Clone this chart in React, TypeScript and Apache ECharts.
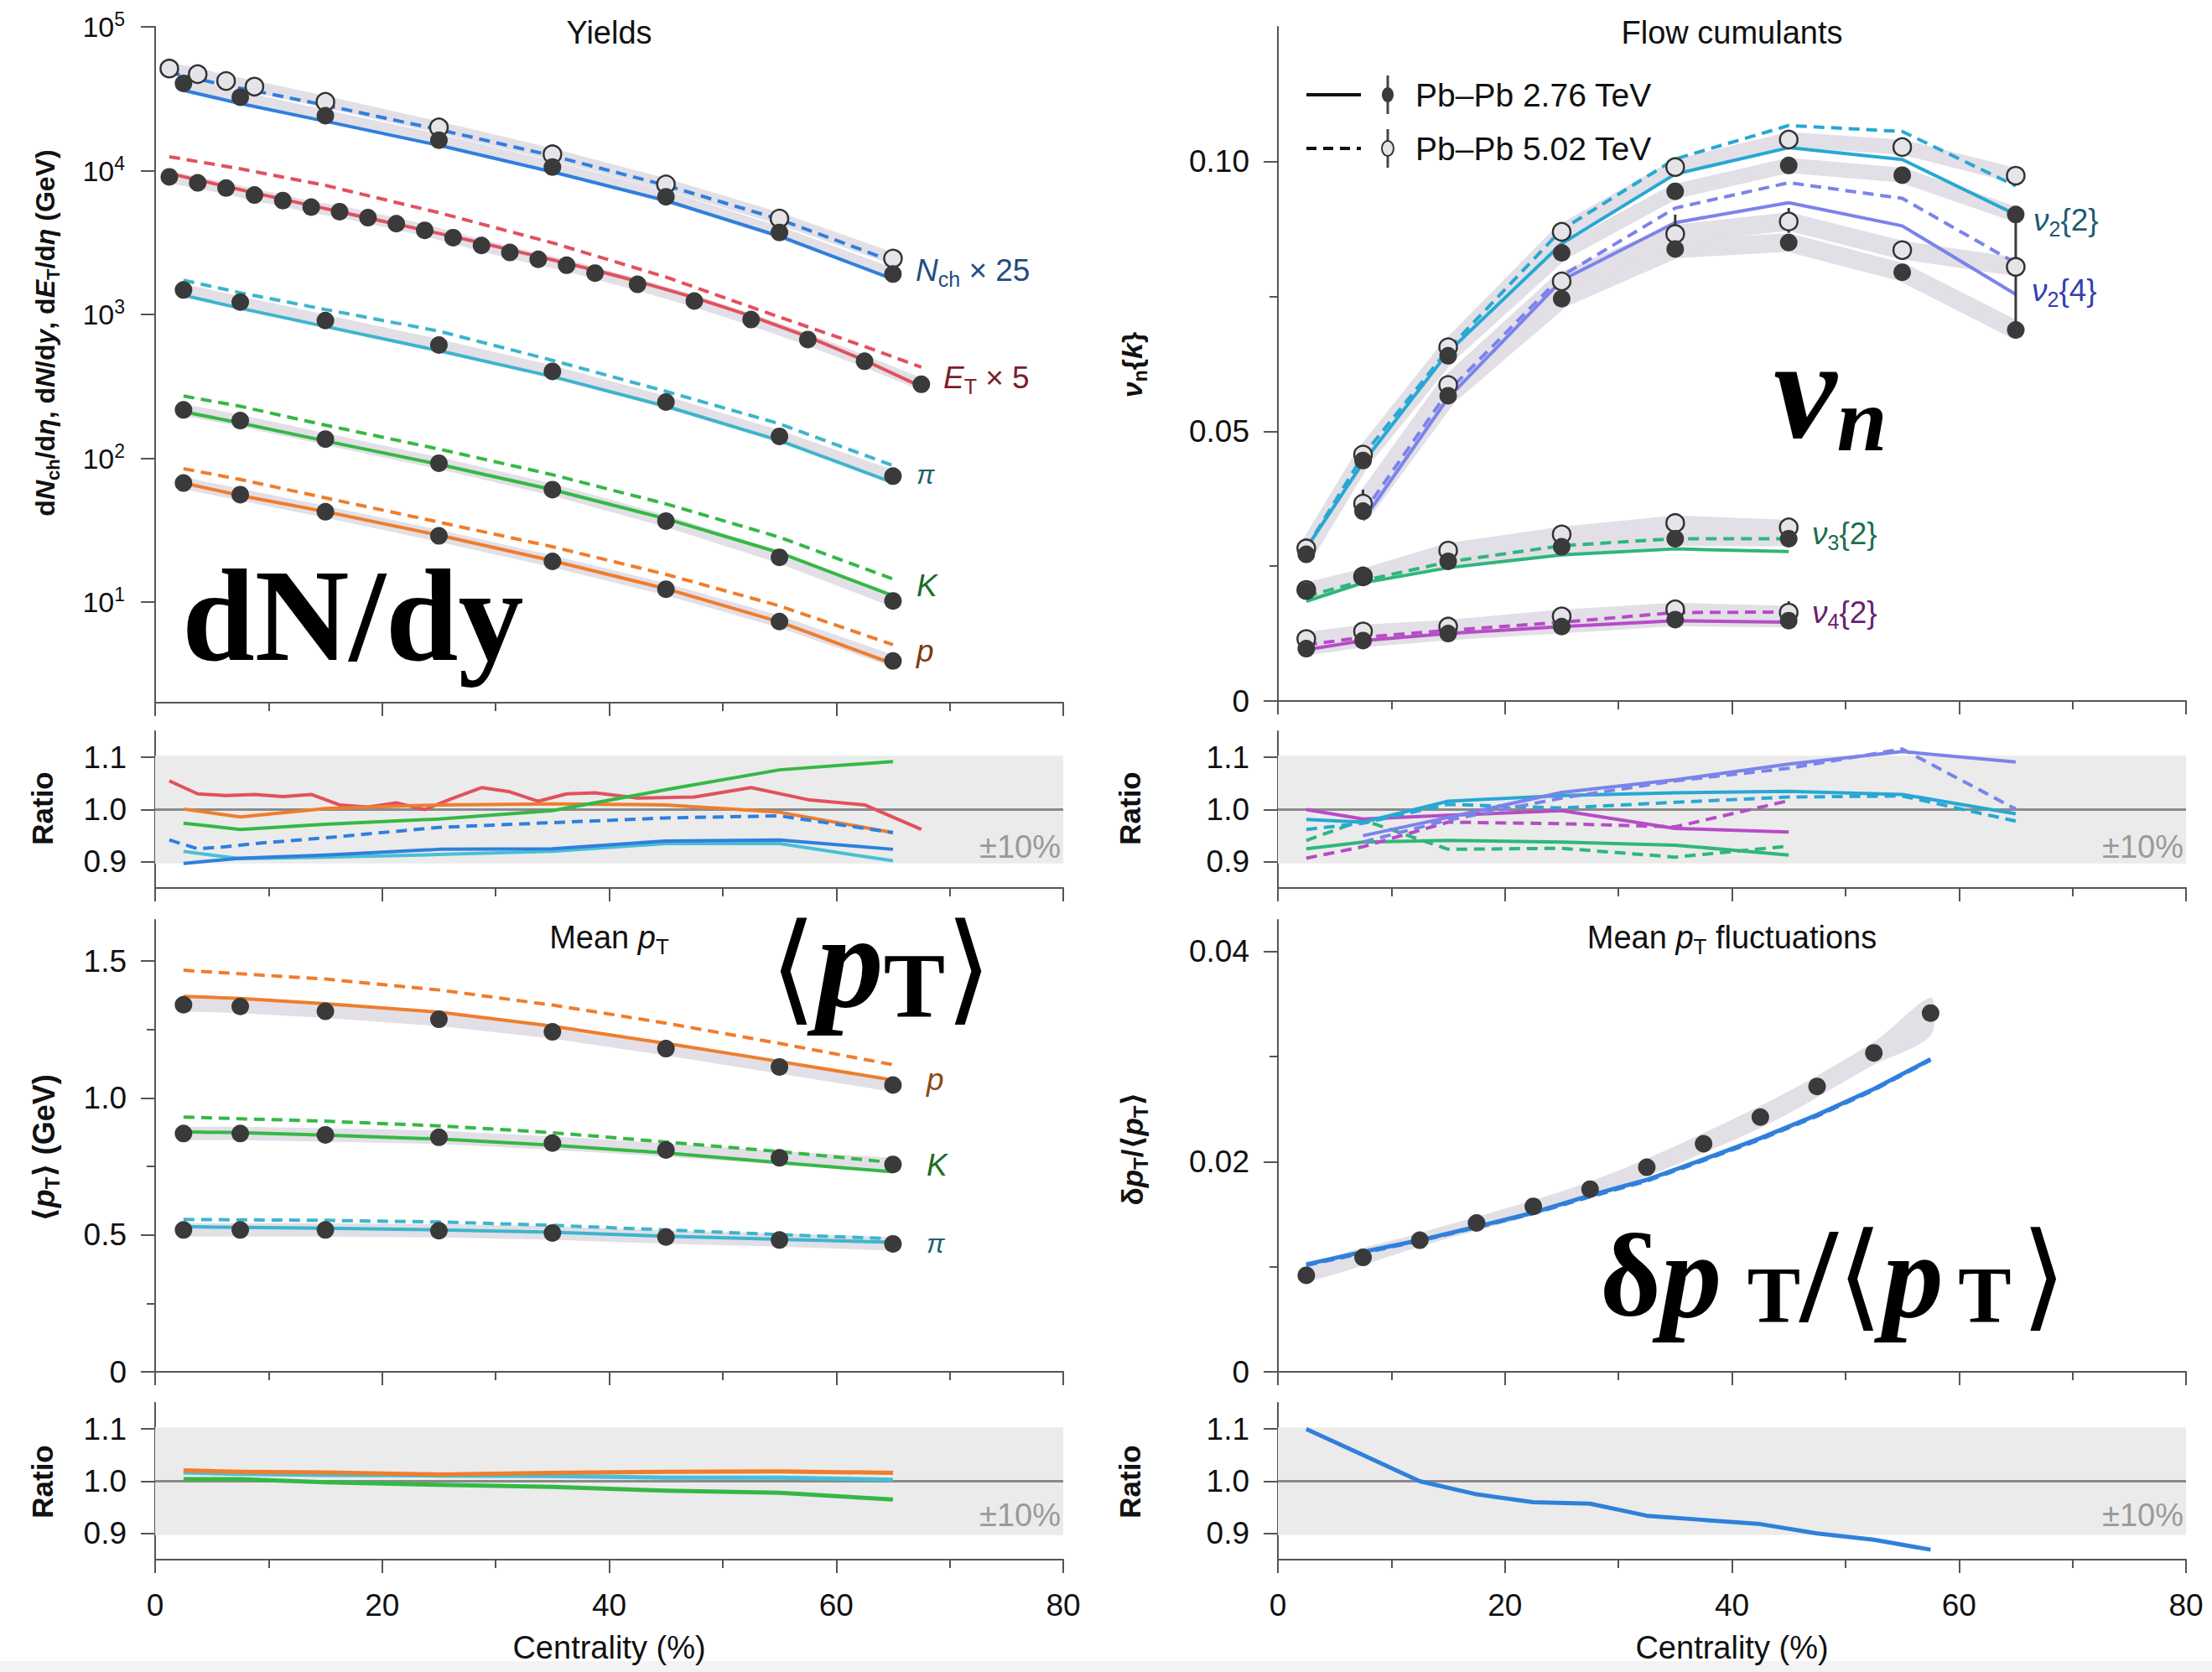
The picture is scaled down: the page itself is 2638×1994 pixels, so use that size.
import React, { useEffect, useRef } from 'react';
import * as echarts from 'echarts';

// ======================= DATA =======================
// centrality bin centres (%)
const X8 = [2.5, 7.5, 15, 25, 35, 45, 55, 65];
const X_NCH_502 = [1.25, 3.75, 6.25, 8.75, 15, 25, 35, 45, 55, 65];
const X_ET = [1.25, 3.75, 6.25, 8.75, 11.25, 13.75, 16.25, 18.75, 21.25, 23.75, 26.25, 28.75, 31.25, 33.75, 36.25, 38.75, 42.5, 47.5, 52.5, 57.5, 62.5, 67.5];
const X_ET_502 = [1.25, 7.5, 15, 25, 35, 45, 55, 62.5, 67.5];
const X_FLOW6 = [2.5, 7.5, 15, 25, 35, 45];
const X_V24 = [7.5, 15, 25, 35, 45, 55, 65];
const X_FLUCT = [2.5, 7.5, 12.5, 17.5, 22.5, 27.5, 32.5, 37.5, 42.5, 47.5, 52.5, 57.5];
const X_FLUCT_BAND = [2.5, 12.5, 27.5, 42.5, 52.5, 57.5];

// Yields (log axis)
const YIELD_TICKS = [10, 100, 1000, 10000, 100000];
const nchData276 = [40400, 32400, 24100, 16300, 10600, 6580, 3720, 1910];
const nchData502 = [51300, 46900, 42000, 38400, 30100, 20000, 13000, 8030, 4650, 2450];
const nchModel276 = [36200, 29300, 22050, 15000, 9800, 6190, 3500, 1760];
const nchModel502 = [48300, 43400, 39100, 35900, 28500, 19300, 12700, 7900, 4590, 2340];
const etData = [9060, 8230, 7570, 6770, 6200, 5580, 5190, 4710, 4280, 3850, 3420, 3020, 2700, 2420, 2200, 1940, 1620, 1240, 922, 670, 473, 327];
const etModel276 = [9560, 8620, 7780, 7000, 6330, 5720, 5180, 4690, 4250, 3850, 3480, 3140, 2820, 2530, 2270, 2030, 1700, 1310, 975, 700, 480, 315];
const etModel502 = [12500, 10300, 7900, 5100, 3150, 1820, 960, 600, 430];
const piData = [1480, 1220, 908, 613, 402, 246, 142, 75.2];
const piModel276 = [1360, 1105, 825, 560, 370, 230, 133, 67.8];
const piModel502 = [1730, 1416, 1083, 766, 480, 292, 174, 89];
const kData = [217, 183, 136, 92.5, 60.6, 36.6, 20.5, 10.2];
const kModel276 = [211, 176, 132, 90.8, 60.5, 38.0, 22.1, 11.1];
const kModel502 = [271, 230, 170, 116, 76.9, 48.2, 28.3, 14.5];
const pData = [67.3, 55.9, 42.5, 28.9, 19.2, 12.3, 7.33, 3.9];
const pModel276 = [67.4, 55.1, 42.6, 29.2, 19.4, 12.4, 7.29, 3.73];
const pModel502 = [84.7, 71.3, 53.1, 36.0, 24.3, 15.6, 9.42, 5.06];

// Ratios to yields
const rNch276 = [0.897, 0.907, 0.913, 0.924, 0.925, 0.94, 0.942, 0.924];
const rNch502 = [0.942, 0.925, 0.929, 0.935, 0.946, 0.966, 0.975, 0.984, 0.988, 0.956];
const rPi = [0.92, 0.906, 0.909, 0.914, 0.92, 0.935, 0.935, 0.902];
const rK = [0.974, 0.962, 0.972, 0.982, 0.998, 1.038, 1.076, 1.092];
const rP = [1.001, 0.986, 1.002, 1.009, 1.011, 1.009, 0.995, 0.956];
const rEt = [1.055, 1.03, 1.027, 1.029, 1.025, 1.029, 1.009, 1.005, 1.013, 1.0, 1.022, 1.042, 1.034, 1.016, 1.03, 1.032, 1.022, 1.024, 1.042, 1.019, 1.009, 0.962];

// Flow cumulants
const v22Data276 = [0.0272, 0.0446, 0.064, 0.0831, 0.0945, 0.0993, 0.0975, 0.0902];
const v22Data502 = [0.0283, 0.0457, 0.0656, 0.087, 0.099, 0.1041, 0.1027, 0.0974];
const v24Data276 = [0.0352, 0.0566, 0.0746, 0.0838, 0.085, 0.0795, 0.0688];
const v24Data502 = [0.0366, 0.0586, 0.0778, 0.0866, 0.0889, 0.0836, 0.0805];
const v32Data276 = [0.0204, 0.0231, 0.0259, 0.0286, 0.0301, 0.0301];
const v32Data502 = [0.0206, 0.0231, 0.0279, 0.0309, 0.033, 0.0322];
const v42Data276 = [0.0097, 0.0112, 0.0125, 0.0138, 0.0151, 0.0149];
const v42Data502 = [0.0115, 0.0129, 0.0138, 0.0157, 0.017, 0.0164];
const v22Model276 = [0.0283, 0.0442, 0.0647, 0.0848, 0.0977, 0.1026, 0.1004, 0.0902];
const v22Model502 = [0.0283, 0.0455, 0.0652, 0.0874, 0.1005, 0.1067, 0.1056, 0.0955];
const v24Model276 = [0.0335, 0.0562, 0.078, 0.0887, 0.0924, 0.0881, 0.0754];
const v24Model502 = [0.0348, 0.0574, 0.0788, 0.0914, 0.0961, 0.0932, 0.0812];
const v32Model276 = [0.0185, 0.0219, 0.0247, 0.0271, 0.0282, 0.0277];
const v32Model502 = [0.0194, 0.0223, 0.0258, 0.0288, 0.0301, 0.0301];
const v42Model276 = [0.0095, 0.0112, 0.0125, 0.0138, 0.0149, 0.0146];
const v42Model502 = [0.0104, 0.0118, 0.0131, 0.0146, 0.0164, 0.0165];
// error bars: [centrality, low, high]
const flowErrBars = [[7.5, 0.0339, 0.0392], [35, 0.0836, 0.0902], [45, 0.0868, 0.0914], [55, 0.0823, 0.0853], [65, 0.0672, 0.0905], [65, 0.0962, 0.099], [45, 0.0148, 0.0185]];

// Ratios to flow
const rV22_276 = [0.981, 0.976, 1.016, 1.027, 1.032, 1.035, 1.029, 0.992];
const rV22_502 = [0.962, 0.974, 1.01, 1.003, 1.014, 1.024, 1.026, 0.978];
const rV24_276 = [0.95, 0.985, 1.033, 1.057, 1.087, 1.111, 1.091];
const rV24_502 = [0.938, 0.98, 1.022, 1.055, 1.079, 1.116, 1.001];
const rV32_276 = [0.925, 0.938, 0.941, 0.938, 0.932, 0.913];
const rV32_502 = [0.941, 0.98, 0.924, 0.926, 0.909, 0.93];
const rV42_276 = [1.0, 0.982, 0.989, 0.998, 0.964, 0.957];
const rV42_502 = [0.907, 0.929, 0.976, 0.973, 0.967, 1.017];

// Mean pT (GeV)
const mptPData = [1.34, 1.334, 1.316, 1.287, 1.241, 1.18, 1.113, 1.047];
const mptPModel276 = [1.371, 1.363, 1.344, 1.313, 1.262, 1.199, 1.133, 1.065];
const mptPModel502 = [1.466, 1.453, 1.434, 1.394, 1.339, 1.273, 1.199, 1.121];
const mptKData = [0.87, 0.87, 0.865, 0.856, 0.835, 0.81, 0.781, 0.757];
const mptKModel276 = [0.876, 0.873, 0.864, 0.85, 0.827, 0.799, 0.764, 0.73];
const mptKModel502 = [0.93, 0.924, 0.915, 0.898, 0.873, 0.839, 0.804, 0.764];
const mptPiData = [0.518, 0.518, 0.518, 0.515, 0.507, 0.492, 0.481, 0.467];
const mptPiModel276 = [0.53, 0.527, 0.524, 0.518, 0.51, 0.495, 0.484, 0.473];
const mptPiModel502 = [0.556, 0.555, 0.553, 0.547, 0.535, 0.518, 0.501, 0.486];
const rMptP = [1.021, 1.018, 1.017, 1.013, 1.016, 1.018, 1.019, 1.016];
const rMptPi = [1.017, 1.014, 1.012, 1.011, 1.01, 1.007, 1.007, 1.003];
const rMptK = [1.004, 1.004, 0.998, 0.993, 0.989, 0.982, 0.978, 0.965];

// Mean pT fluctuations
const fluctData = [0.00918, 0.01088, 0.01252, 0.01416, 0.01574, 0.01738, 0.01946, 0.0217, 0.02423, 0.02715, 0.03034, 0.03413];
const fluctModel276 = [0.01022, 0.01142, 0.01252, 0.0138, 0.01514, 0.01678, 0.01827, 0.02021, 0.02223, 0.02444, 0.02691, 0.02974];
const fluctModel502 = [0.01012, 0.0113, 0.01245, 0.01372, 0.01505, 0.01665, 0.01815, 0.0201, 0.0221, 0.02432, 0.0268, 0.02965];
const fluctBandLo = [0.0086, 0.0119, 0.0166, 0.0232, 0.0292, 0.032];
const fluctBandHi = [0.0101, 0.0132, 0.0181, 0.0253, 0.0314, 0.0356];
const rFluct = [1.1, 1.05, 1.0, 0.975, 0.96, 0.957, 0.934, 0.926, 0.918, 0.9, 0.888, 0.869];

// ======================= STYLE / LAYOUT =======================
const W = 2638;
const H = 1994;
const SANS = '"Liberation Sans", Arial, Helvetica, sans-serif';
const SERIF = '"Liberation Serif", "Times New Roman", serif';
const BRK = '"DejaVu Serif", "DejaVu Sans", serif';
const BAND = '#e2dfe7';
const AX = '#555555';
const C_NCH = '#2f7fdd';
const C_ET = '#e2515c';
const C_PI = '#3db5cc';
const C_K = '#35b845';
const C_P = '#ef7d2d';
const C_V22 = '#27a8d2';
const C_V24 = '#7b83ea';
const C_V32 = '#2eb77a';
const C_V42 = '#b64cc6';
const C_FL = '#2f80dc';

const LX = 185;
const RX = 1524;
const GW = 1083;
const GRIDS = [
  { left: LX, top: 32, width: GW, height: 806 },
  { left: RX, top: 32, width: GW, height: 804 },
  { left: LX, top: 872, width: GW, height: 187 },
  { left: RX, top: 872, width: GW, height: 187 },
  { left: LX, top: 1097, width: GW, height: 539 },
  { left: RX, top: 1097, width: GW, height: 539 },
  { left: LX, top: 1673, width: GW, height: 187 },
  { left: RX, top: 1673, width: GW, height: 187 },
];

const pair = (xs: number[], ys: number[]) => xs.map((x, i) => [x, ys[i]]);

const mkLine = (g: number, xs: number[], ys: number[], color: string, dashed = false, width = 4, z = 3, cap = 'butt') => ({
  type: 'line', xAxisIndex: g, yAxisIndex: g, data: pair(xs, ys), symbol: 'none', showSymbol: false, silent: true, z,
  lineStyle: { color, width, type: dashed ? [13, 8] : 'solid', cap, join: 'round' },
});
const mkBand = (g: number, xs: number[], ys: number[], width = 14) => mkLine(g, xs, ys, BAND, false, width, 1, 'round');
const mkDots = (g: number, xs: number[], ys: number[], open = false, size = 21) => ({
  type: 'scatter', xAxisIndex: g, yAxisIndex: g, data: pair(xs, ys), symbol: 'circle', symbolSize: size, silent: true,
  z: open ? 5 : 6,
  itemStyle: open ? { color: '#e5e5e9', borderColor: '#333333', borderWidth: 2.5, opacity: 1 } : { color: '#3a3a3a', opacity: 1 },
});
const mkErr = (g: number, rows: number[][]) => ({
  type: 'custom', xAxisIndex: g, yAxisIndex: g, data: rows, encode: { x: 0, y: [1, 2] }, silent: true, z: 4,
  renderItem: (params: any, api: any) => {
    const a = api.coord([api.value(0), api.value(1)]);
    const b = api.coord([api.value(0), api.value(2)]);
    return { type: 'line', shape: { x1: a[0], y1: a[1], x2: b[0], y2: b[1] }, style: { stroke: '#3a3a3a', lineWidth: 3 } };
  },
});
const mkPolyBand = (g: number, xs: number[], lo: number[], hi: number[]) => ({
  type: 'custom', xAxisIndex: g, yAxisIndex: g, data: pair(xs, lo), encode: { x: 0, y: 1 }, silent: true, z: 1,
  renderItem: (params: any, api: any) => {
    if (params.dataIndex !== 0) return { type: 'group', children: [] };
    const top = xs.map((x, i) => api.coord([x, hi[i]]));
    const bot = xs.map((x, i) => api.coord([x, lo[i]])).reverse();
    return { type: 'polygon', shape: { points: top.concat(bot), smooth: 0.3 }, style: { fill: BAND } };
  },
});
const mkRatioBase = (g: number) => [
  {
    type: 'line', xAxisIndex: g, yAxisIndex: g, data: [[0, 1]], symbol: 'none', silent: true, z: 0,
    lineStyle: { width: 0 },
    markArea: { silent: true, itemStyle: { color: '#ebebeb' }, data: [[{ yAxis: 0.897 }, { yAxis: 1.103 }]] },
  },
  {
    type: 'line', xAxisIndex: g, yAxisIndex: g, data: [[0, 1], [80, 1]], symbol: 'none', silent: true, z: 2,
    lineStyle: { color: '#8a8a8a', width: 3 },
  },
];

const tickStyle = { color: AX, width: 2 };
const labelBase = { color: '#111111', fontFamily: SANS, fontSize: 37, margin: 34 };

const xAx = (i: number) => ({
  type: 'value', gridIndex: i, min: 0, max: 80, interval: 20,
  axisLine: { show: true, onZero: false, lineStyle: { color: AX, width: 2 } },
  axisTick: { show: true, length: 16, lineStyle: tickStyle },
  minorTick: { show: true, splitNumber: 2, length: 10, lineStyle: tickStyle },
  splitLine: { show: false }, minorSplitLine: { show: false },
  axisLabel: { show: i >= 6, color: '#111111', fontFamily: SANS, fontSize: 37, margin: 36 },
  name: i >= 6 ? 'Centrality (%)' : '', nameLocation: 'middle', nameGap: 86,
  nameTextStyle: { fontSize: 38, color: '#111111', fontFamily: SANS },
});

const yVal = (g: number, min: number, max: number, ticks: number[], fmt: (v: number) => string) => ({
  type: 'value', gridIndex: g, min, max, position: 'left',
  axisLine: { show: true, onZero: false, lineStyle: { color: AX, width: 2 } },
  axisTick: { show: true, length: 17, customValues: ticks, lineStyle: tickStyle },
  axisLabel: { ...labelBase, customValues: ticks, formatter: fmt },
  splitLine: { show: false },
});
const yMinor = (g: number, min: number, max: number, ticks: number[]) => ({
  type: 'value', gridIndex: g, min, max, position: 'left', offset: 0,
  axisLine: { show: false }, axisLabel: { show: false }, splitLine: { show: false },
  axisTick: { show: true, length: 10, customValues: ticks, lineStyle: tickStyle },
});

// rich helpers
const subPad = (fm: number, fs: number) => Math.round(2 * (0.18 * fm + 0.35 * (fm - fs)));
const rs = (fs: number, color: string, o: any = {}) => ({
  fontSize: fs, fontFamily: o.ff || SANS, fontStyle: o.it ? 'italic' : 'normal', fontWeight: o.bold ? 'bold' : 'normal',
  fill: color, color, padding: [o.pt || 0, 0, o.pb || 0, 0], verticalAlign: 'middle', align: 'left',
  ...(o.width ? { width: o.width } : {}),
});
const richSet = (fm: number, color: string, bold = false) => {
  const fs = Math.round(fm * 0.68);
  return {
    n: rs(fm, color, { bold }),
    i: rs(fm, color, { it: true, bold }),
    s: rs(fs, color, { bold, pt: subPad(fm, fs) }),
    br: rs(fm, color, { bold, ff: '"DejaVu Sans", sans-serif' }),
  };
};

const T = (x: number, y: number, text: string, o: any = {}) => {
  const fs = o.fs || 38;
  const color = o.color || '#111111';
  return {
    type: 'text', x, y, rotation: o.rot || 0, silent: true, z: 100,
    style: {
      text, fill: color, fontSize: fs, fontFamily: o.ff || SANS,
      fontWeight: o.bold ? 'bold' : 'normal', fontStyle: o.it ? 'italic' : 'normal',
      align: o.align || 'left', verticalAlign: 'middle', textAlign: o.align || 'left', textVerticalAlign: 'middle',
      rich: o.rich || richSet(fs, color, !!o.bold),
    },
  };
};
// big overlay token
const ov = (fs: number, o: any = {}) => rs(fs, '#000000', { ff: o.ff || SERIF, bold: o.bold !== false, it: !!o.it, pt: o.pt || 0, width: o.width });

function buildOption() {
  const series: any[] = [];
  // ---- Yields ----
  series.push(
    mkBand(0, X_NCH_502, nchData502), mkBand(0, X8, nchData276), mkBand(0, X_ET, etData),
    mkBand(0, X8, piData), mkBand(0, X8, kData), mkBand(0, X8, pData),
    mkLine(0, X8, nchModel276, C_NCH), mkLine(0, X_NCH_502, nchModel502, C_NCH, true),
    mkLine(0, X_ET, etModel276, C_ET), mkLine(0, X_ET_502, etModel502, C_ET, true),
    mkLine(0, X8, piModel276, C_PI), mkLine(0, X8, piModel502, C_PI, true),
    mkLine(0, X8, kModel276, C_K), mkLine(0, X8, kModel502, C_K, true),
    mkLine(0, X8, pModel276, C_P), mkLine(0, X8, pModel502, C_P, true),
    mkDots(0, X_NCH_502, nchData502, true), mkDots(0, X8, nchData276), mkDots(0, X_ET, etData),
    mkDots(0, X8, piData), mkDots(0, X8, kData), mkDots(0, X8, pData),
  );
  // ---- Flow ----
  series.push(
    mkBand(1, X8, v22Data276, 18), mkBand(1, X8, v22Data502, 18),
    mkBand(1, X_V24, v24Data276, 22), mkBand(1, X_V24, v24Data502, 22),
    mkBand(1, X_FLOW6, v32Data276, 18), mkBand(1, X_FLOW6, v32Data502, 18),
    mkBand(1, X_FLOW6, v42Data276, 16), mkBand(1, X_FLOW6, v42Data502, 16),
    mkLine(1, X8, v22Model276, C_V22), mkLine(1, X8, v22Model502, C_V22, true),
    mkLine(1, X_V24, v24Model276, C_V24), mkLine(1, X_V24, v24Model502, C_V24, true),
    mkLine(1, X_FLOW6, v32Model276, C_V32), mkLine(1, X_FLOW6, v32Model502, C_V32, true),
    mkLine(1, X_FLOW6, v42Model276, C_V42), mkLine(1, X_FLOW6, v42Model502, C_V42, true),
    mkErr(1, flowErrBars),
    mkDots(1, X8, v22Data502, true), mkDots(1, X8, v22Data276),
    mkDots(1, X_V24, v24Data502, true), mkDots(1, X_V24, v24Data276),
    mkDots(1, X_FLOW6, v32Data502, true), mkDots(1, X_FLOW6, v32Data276),
    mkDots(1, X_FLOW6, v42Data502, true), mkDots(1, X_FLOW6, v42Data276),
  );
  // ---- Ratio (yields) ----
  series.push(
    ...mkRatioBase(2),
    mkLine(2, X_ET, rEt, C_ET), mkLine(2, X8, rP, C_P), mkLine(2, X8, rK, C_K),
    mkLine(2, X_NCH_502, rNch502, C_NCH, true), mkLine(2, X8, rPi, '#47bfd6'), mkLine(2, X8, rNch276, C_NCH),
  );
  // ---- Ratio (flow) ----
  series.push(
    ...mkRatioBase(3),
    mkLine(3, X_FLOW6, rV32_276, C_V32), mkLine(3, X_FLOW6, rV32_502, C_V32, true),
    mkLine(3, X_FLOW6, rV42_276, C_V42), mkLine(3, X_FLOW6, rV42_502, C_V42, true),
    mkLine(3, X8, rV22_276, C_V22), mkLine(3, X8, rV22_502, C_V22, true),
    mkLine(3, X_V24, rV24_276, C_V24), mkLine(3, X_V24, rV24_502, C_V24, true),
  );
  // ---- Mean pT ----
  series.push(
    mkBand(4, X8, mptPData, 16), mkBand(4, X8, mptKData, 16), mkBand(4, X8, mptPiData, 16),
    mkLine(4, X8, mptPModel276, C_P), mkLine(4, X8, mptPModel502, C_P, true),
    mkLine(4, X8, mptKModel276, C_K), mkLine(4, X8, mptKModel502, C_K, true),
    mkLine(4, X8, mptPiModel276, C_PI), mkLine(4, X8, mptPiModel502, C_PI, true),
    mkDots(4, X8, mptPData), mkDots(4, X8, mptKData), mkDots(4, X8, mptPiData),
  );
  // ---- Fluctuations ----
  series.push(
    mkPolyBand(5, X_FLUCT_BAND, fluctBandLo, fluctBandHi),
    mkLine(5, X_FLUCT, fluctModel276, C_FL, false, 5), mkLine(5, X_FLUCT, fluctModel502, C_FL, true, 4),
    mkDots(5, X_FLUCT, fluctData),
  );
  // ---- Ratio (mean pT) ----
  series.push(
    ...mkRatioBase(6),
    mkLine(6, X8, rMptK, C_K, false, 5), mkLine(6, X8, rMptPi, '#47bfd6', false, 5), mkLine(6, X8, rMptP, C_P, false, 5),
  );
  // ---- Ratio (fluct) ----
  series.push(...mkRatioBase(7), mkLine(7, X_FLUCT, rFluct, C_FL, false, 5));

  const ratioFmt = (v: number) => v.toFixed(1);
  const yAxis: any[] = [
    {
      type: 'log', logBase: 10, gridIndex: 0, min: 2, max: 100000, position: 'left',
      axisLine: { show: true, onZero: false, lineStyle: { color: AX, width: 2 } },
      axisTick: { show: true, length: 17, customValues: YIELD_TICKS, lineStyle: tickStyle },
      axisLabel: {
        color: '#111111', fontFamily: SANS, margin: 36, customValues: YIELD_TICKS,
        formatter: (v: number) => `{b|10}{p|${Math.round(Math.log10(v))}}`,
        rich: {
          b: { fontSize: 34, fontFamily: SANS, color: '#111111', verticalAlign: 'middle' },
          p: { fontSize: 23, fontFamily: SANS, color: '#111111', padding: [0, 0, 18, 0], verticalAlign: 'middle' },
        },
      },
      splitLine: { show: false }, minorTick: { show: false },
    },
    yVal(1, 0, 0.125, [0, 0.05, 0.1], (v) => (v === 0 ? '0' : v.toFixed(2))),
    yVal(2, 0.85, 1.15, [0.9, 1.0, 1.1], ratioFmt),
    yVal(3, 0.85, 1.15, [0.9, 1.0, 1.1], ratioFmt),
    yVal(4, 0, 1.65, [0, 0.5, 1.0, 1.5], (v) => (v === 0 ? '0' : v.toFixed(1))),
    yVal(5, 0, 0.043, [0, 0.02, 0.04], (v) => (v === 0 ? '0' : v.toFixed(2))),
    yVal(6, 0.85, 1.15, [0.9, 1.0, 1.1], ratioFmt),
    yVal(7, 0.85, 1.15, [0.9, 1.0, 1.1], ratioFmt),
    yMinor(1, 0, 0.125, [0.025, 0.075]),
    yMinor(4, 0, 1.65, [0.25, 0.75, 1.25]),
    yMinor(5, 0, 0.043, [0.01, 0.03]),
  ];

  const R = Math.PI / 2;
  const LC = LX + GW / 2;
  const RC = RX + GW / 2;
  const g: any[] = [
    // footer strip
    { type: 'rect', shape: { x: 0, y: 1981, width: W, height: 13 }, style: { fill: '#f3f3f3' }, silent: true, z: 0 },
    // titles
    T(LC, 39, 'Yields', { fs: 38, align: 'center' }),
    T(RC, 39, 'Flow cumulants', { fs: 38, align: 'center' }),
    T(LC, 1118, 'Mean {i|p}{s|T}', { fs: 38, align: 'center' }),
    T(RC, 1118, 'Mean {i|p}{s|T} fluctuations', { fs: 38, align: 'center' }),
    // y-axis names
    T(54, 397, 'd{i|N}{s|ch}/d{i|η}, d{i|N}/d{i|y}, d{i|E}{s|T}/d{i|η} (GeV)', { fs: 32, bold: true, align: 'center', rot: R }),
    T(1350, 435, '{i|ν}{s|n}{{i|k}}', { fs: 34, bold: true, align: 'center', rot: R }),
    T(50, 964, 'Ratio', { fs: 35, bold: true, align: 'center', rot: R }),
    T(1347, 964, 'Ratio', { fs: 35, bold: true, align: 'center', rot: R }),
    T(52, 1369, '{br|⟨}{i|p}{s|T}{br|⟩} (GeV)', { fs: 36, bold: true, align: 'center', rot: R }),
    T(1350, 1370, 'δ{i|p}{s|T}/{br|⟨}{i|p}{s|T}{br|⟩}', { fs: 35, bold: true, align: 'center', rot: R }),
    T(50, 1767, 'Ratio', { fs: 35, bold: true, align: 'center', rot: R }),
    T(1347, 1767, 'Ratio', { fs: 35, bold: true, align: 'center', rot: R }),
    // ±10%
    T(1265, 1010, '±10%', { fs: 38, color: '#9a9a9a', align: 'right' }),
    T(2604, 1010, '±10%', { fs: 38, color: '#9a9a9a', align: 'right' }),
    T(1265, 1807, '±10%', { fs: 38, color: '#9a9a9a', align: 'right' }),
    T(2604, 1807, '±10%', { fs: 38, color: '#9a9a9a', align: 'right' }),
    // yields labels
    T(1092, 322, '{i|N}{s|ch} × 25', { fs: 37, color: '#1f4d80' }),
    T(1125, 450, '{i|E}{s|T} × 5', { fs: 37, color: '#7a1f2b' }),
    T(1093, 566, 'π', { fs: 32, it: true, color: '#1d5f6b' }),
    T(1093, 698, 'K', { fs: 37, it: true, color: '#1e6b28' }),
    T(1093, 776, 'p', { fs: 37, it: true, color: '#7a3b10' }),
    // flow labels
    T(2425, 262, '{i|ν}{s|2}{2}', { fs: 37, color: '#1f5a75' }),
    T(2423, 346, '{i|ν}{s|2}{4}', { fs: 37, color: '#3540b0' }),
    T(2161, 636, '{i|ν}{s|3}{2}', { fs: 37, color: '#1c6e4e' }),
    T(2161, 730, '{i|ν}{s|4}{2}', { fs: 37, color: '#6a2070' }),
    // mean pT labels
    T(1105, 1287, 'p', { fs: 37, it: true, color: '#8a4a14' }),
    T(1105, 1389, 'K', { fs: 37, it: true, color: '#1e6b28' }),
    T(1105, 1483, 'π', { fs: 32, it: true, color: '#1d6070' }),
    // legend
    { type: 'line', shape: { x1: 1558, y1: 113, x2: 1623, y2: 113 }, style: { stroke: '#111111', lineWidth: 4 }, silent: true, z: 100 },
    { type: 'line', shape: { x1: 1558, y1: 177, x2: 1623, y2: 177 }, style: { stroke: '#111111', lineWidth: 4, lineDash: [12, 8] }, silent: true, z: 100 },
    { type: 'line', shape: { x1: 1655, y1: 90, x2: 1655, y2: 136 }, style: { stroke: '#444444', lineWidth: 3 }, silent: true, z: 100 },
    { type: 'line', shape: { x1: 1655, y1: 154, x2: 1655, y2: 200 }, style: { stroke: '#444444', lineWidth: 3 }, silent: true, z: 100 },
    { type: 'ellipse', shape: { cx: 1655, cy: 113, rx: 7, ry: 9 }, style: { fill: '#3a3a3a' }, silent: true, z: 101 },
    { type: 'ellipse', shape: { cx: 1655, cy: 177, rx: 7, ry: 9 }, style: { fill: '#e5e5e9', stroke: '#333333', lineWidth: 2 }, silent: true, z: 101 },
    T(1688, 113, 'Pb–Pb 2.76 TeV', { fs: 39 }),
    T(1688, 177, 'Pb–Pb 5.02 TeV', { fs: 39 }),
    // big overlays
    T(217, 788 - 0.34 * 156, 'dN/dy', { fs: 156, ff: SERIF, bold: true, color: '#000000', rich: {} }),
    T(2115, 522 - 0.34 * 170, '{v|v}{n|n}', {
      fs: 170, color: '#000000',
      rich: {
        v: ov(170, { it: true }),
        n: ov(108, { it: true, pt: 2 * ((537 - 0.34 * 108) - (522 - 0.34 * 170)) }),
      },
    }),
    T(918, 1201 - 0.34 * 160, '{a|⟨}{p|p}{t|T}{a|⟩}', {
      fs: 160, color: '#000000',
      rich: {
        a: ov(143, { ff: BRK, bold: false, pt: 13 }),
        p: ov(160, { it: true }),
        t: ov(110, { pt: 58 }),
      },
    }),
    T(1908, 1570 - 0.34 * 145, '{d|δ}{p|p}{t|T}{s|/}{a|⟨}{q|p}{u|T}{c|⟩}', {
      fs: 145, color: '#000000',
      rich: {
        d: ov(140),
        p: ov(145, { it: true, width: 103 }),
        t: ov(95, { pt: 48, width: 63 }),
        s: ov(160),
        a: ov(139, { ff: BRK, bold: false }),
        q: ov(145, { it: true, width: 90 }),
        u: ov(95, { pt: 48, width: 75 }),
        c: ov(139, { ff: BRK, bold: false }),
      },
    }),
  ];

  return {
    animation: false,
    backgroundColor: '#ffffff',
    textStyle: { fontFamily: SANS },
    grid: GRIDS.map((gr) => ({ ...gr, containLabel: false, outerBoundsMode: 'none' })),
    xAxis: GRIDS.map((_, i) => xAx(i)),
    yAxis,
    series,
    graphic: { elements: g },
  };
}

export default function App() {
  const ref = useRef<HTMLDivElement>(null);
  useEffect(() => {
    document.body.style.margin = '0';
    document.body.style.overflow = 'hidden';
    const chart = echarts.init(ref.current as HTMLDivElement, null, { renderer: 'svg', width: W, height: H });
    chart.setOption(buildOption() as any);
    return () => chart.dispose();
  }, []);
  return <div ref={ref} style={{ width: W, height: H, background: '#ffffff' }} />;
}
